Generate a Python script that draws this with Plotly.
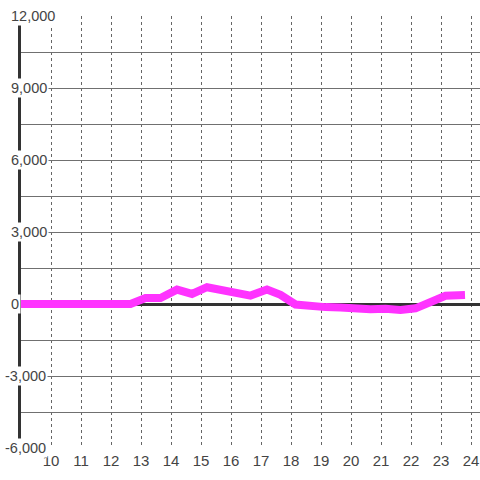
import plotly.graph_objects as go

# Data
hours = [9.0, 12.65, 13.15, 13.65, 14.2, 14.7, 15.2, 15.7, 16.2, 16.65, 17.2, 17.65,
         18.15, 18.65, 19.15, 19.65, 20.15, 20.65, 21.15, 21.65, 22.15, 22.65, 23.15, 23.8]
values = [0, 0, 250, 250, 600, 420, 700, 560, 430, 350, 600, 380,
          -20, -100, -130, -150, -200, -220, -200, -250, -180, 60, 340, 370]

x_ticks = list(range(10, 25))
y_tick_vals = [12000, 9000, 6000, 3000, 0, -3000, -6000]
y_tick_text = ["12,000", "9,000", "6,000", "3,000", "0", "-3,000", "-6,000"]

FONT = "Liberation Sans, Arial, sans-serif"
TXT = "#444444"

fig = go.Figure()
fig.add_trace(go.Scatter(
    x=hours, y=values, mode="lines",
    line=dict(color="#ff33ff", width=8),
    hoverinfo="skip", showlegend=False,
))

annotations = []
for v, t in zip(y_tick_vals, y_tick_text):
    annotations.append(dict(
        x=0, xref="paper", y=v, yref="y", text=t, showarrow=False,
        xanchor="left", yanchor="middle",
        xshift=-18 if v < 0 else -12,
        bgcolor="white", borderpad=1,
        font=dict(family=FONT, size=14.5, color=TXT),
    ))

fig.update_layout(
    width=480, height=480,
    margin=dict(l=21, r=0, t=16, b=32),
    paper_bgcolor="white", plot_bgcolor="white",
    annotations=annotations,
    xaxis=dict(
        range=[9, 24.3], tickmode="array", tickvals=x_ticks,
        ticktext=[str(v) for v in x_ticks],
        showgrid=True, gridcolor="#666666", gridwidth=1, griddash="3px,3px",
        zeroline=False, showline=False, ticks="", automargin=False,
        ticklabelstandoff=2,
        tickfont=dict(family=FONT, size=15, color=TXT),
    ),
    yaxis=dict(
        range=[-6000, 12000], tick0=0, dtick=1500,
        showgrid=True, gridcolor="#707070", gridwidth=1,
        zeroline=True, zerolinecolor="#333333", zerolinewidth=3,
        showline=True, linecolor="#333333", linewidth=3, automargin=False,
        showticklabels=False, ticks="", layer="below traces",
    ),
)

fig.write_html(
    "out.html",
    config={"displayModeBar": False, "staticPlot": True},
    post_script=(
        "document.body.style.margin='0';"
        "document.body.style.overflow='hidden';"
        "document.documentElement.style.overflow='hidden';"
    ),
)
